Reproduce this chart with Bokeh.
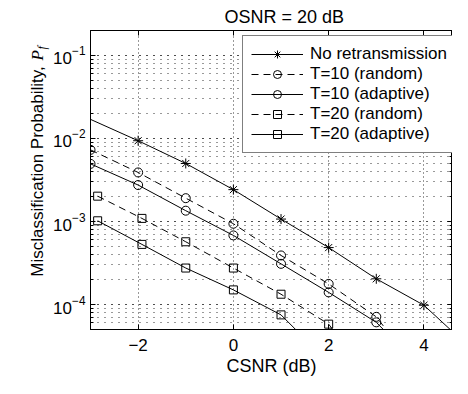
import math
from bokeh.plotting import figure
from bokeh.layouts import row
from bokeh.models import (Range1d, LinearAxis, LogAxis, SingleIntervalTicker,
                          CustomJSTickFormatter, Plot, ColumnDataSource, Text)
from bokeh.core.properties import value
from bokeh.embed import file_html
from bokeh.resources import INLINE

# ---------------- data ----------------
title_text = "OSNR = 20 dB"
x_label = "CSNR (dB)"
y_label_main = "Misclassification Probability, "
y_label_sym = "P"
y_label_sub = "f"

csnr = [-3, -2, -1, 0, 1, 2, 3, 4, 5]
no_retx = [1.7e-2, 9.4e-3, 5.0e-3, 2.42e-3, 1.07e-3, 4.85e-4, 2.04e-4, 9.8e-5, 2.9e-5]

csnr_t10 = [-3, -2, -1, 0, 1, 2, 3, 4]
t10_random = [7.3e-3, 3.9e-3, 1.91e-3, 9.4e-4, 3.9e-4, 1.77e-4, 7.1e-5, 1.3e-5]
t10_adaptive = [4.95e-3, 2.75e-3, 1.35e-3, 6.8e-4, 3.09e-4, 1.40e-4, 6.1e-5, 1.6e-5]

csnr_t20 = [-2.85, -1.92, -1, 0, 1, 2, 3]
t20_random = [2.02e-3, 1.09e-3, 5.7e-4, 2.75e-4, 1.33e-4, 5.8e-5, 1.0e-5]
t20_adaptive = [1.02e-3, 5.3e-4, 2.75e-4, 1.5e-4, 7.5e-5, 2.0e-5, 5.0e-6]

legend_labels = ["No retransmission", "T=10 (random)", "T=10 (adaptive)",
                 "T=20 (random)", "T=20 (adaptive)"]

x_lo, x_hi = -3, 4.6
y_lo, y_hi = 5e-5, 0.2

FONT = "Liberation Sans"
FS = "17px"
FS_BIG = "18px"

W, H = 452, 378
LW = 50            # width of the strip holding the y-axis label
ML, MT, MB = 34, 29, 49

# ---------------- y label strip (data units == pixels from the canvas bottom) ----------------
lab = Plot(width=LW, height=H, title=None, toolbar_location=None, output_backend="svg",
           x_range=Range1d(0, LW), y_range=Range1d(MB, H - MT),
           min_border_left=0, min_border_right=0, min_border_top=MT, min_border_bottom=MB,
           outline_line_color=None, background_fill_color="white",
           border_fill_color="white")

y_start = H - 276          # bottom end of the text, pixels from canvas bottom
w_main = 217               # rendered length of the main text
src_main = ColumnDataSource(dict(x=[37], y=[y_start], t=[y_label_main]))
src_sym = ColumnDataSource(dict(x=[37], y=[y_start + w_main], t=[y_label_sym]))
src_sub = ColumnDataSource(dict(x=[41], y=[y_start + w_main + 11], t=[y_label_sub]))
lab.add_glyph(src_main, Text(x="x", y="y", text="t", angle=math.pi / 2,
                             text_font=value(FONT), text_font_size=FS, text_color="black",
                             text_align="left", text_baseline="alphabetic"))
lab.add_glyph(src_sym, Text(x="x", y="y", text="t", angle=math.pi / 2,
                            text_font=value("Liberation Serif"), text_font_size=FS,
                            text_font_style="italic", text_color="black",
                            text_align="left", text_baseline="alphabetic"))
lab.add_glyph(src_sub, Text(x="x", y="y", text="t", angle=math.pi / 2,
                            text_font=value("Liberation Serif"), text_font_size="12px",
                            text_font_style="italic", text_color="black",
                            text_align="left", text_baseline="alphabetic"))

# ---------------- main plot ----------------
p = figure(width=W - LW, height=H, y_axis_type="log",
           x_range=Range1d(x_lo, x_hi), y_range=Range1d(y_lo, y_hi),
           output_backend="svg", toolbar_location=None,
           min_border_left=ML, min_border_right=0, min_border_top=MT, min_border_bottom=MB)

p.background_fill_color = "white"
p.border_fill_color = "white"
p.outline_line_color = "black"
p.outline_line_alpha = 1.0
p.outline_line_width = 1

p.title.text = title_text
p.title.text_font = FONT
p.title.text_font_size = FS_BIG
p.title.text_font_style = "normal"
p.title.text_color = "black"
p.title.align = "left"
p.title.offset = 134
p.title.standoff = 8

xb = p.xaxis[0]
yl = p.yaxis[0]
xt = SingleIntervalTicker(interval=2, num_minor_ticks=0)
xb.ticker = xt
xb.formatter = CustomJSTickFormatter(
    code="return tick < 0 ? '\u2212' + Math.abs(tick) : tick.toString();")
xb.axis_label = x_label

top = LinearAxis(ticker=xt, formatter=CustomJSTickFormatter(code="return '';"))
right = LogAxis(ticker=yl.ticker, formatter=CustomJSTickFormatter(code="return '';"))
p.add_layout(top, "above")
p.add_layout(right, "right")

for ax in [xb, yl, top, right]:
    ax.axis_line_color = "black"
    ax.major_tick_line_color = "black"
    ax.minor_tick_line_color = "black"
    ax.major_tick_in = 5
    ax.major_tick_out = 0
    ax.minor_tick_in = 3
    ax.minor_tick_out = 0
    ax.major_label_text_font = FONT
    ax.major_label_text_font_size = FS
    ax.major_label_text_color = "black"
    ax.axis_label_text_font = FONT
    ax.axis_label_text_font_size = FS_BIG
    ax.axis_label_text_font_style = "normal"
    ax.axis_label_text_color = "black"
for ax in [top, right]:
    ax.major_label_standoff = 0
xb.major_label_standoff = 9
xb.axis_label_standoff = 2
yl.major_label_standoff = 5

p.xgrid.grid_line_color = "#333333"
p.xgrid.grid_line_dash = "1 3"
p.ygrid.grid_line_color = "#333333"
p.ygrid.grid_line_dash = "1 6"
p.ygrid.minor_grid_line_color = "#333333"
p.ygrid.minor_grid_line_dash = "1 6"

DASH = "7 5"

p.line(csnr, no_retx, color="black", line_width=1, legend_label=legend_labels[0])
p.scatter(csnr[1:8], no_retx[1:8], marker="asterisk", size=10, line_color="black",
          line_width=1, legend_label=legend_labels[0])

p.line(csnr_t10, t10_random, color="black", line_width=1, line_dash=DASH,
       legend_label=legend_labels[1])
p.scatter(csnr_t10, t10_random, marker="circle", size=9, line_color="black",
          fill_color=None, line_width=1, legend_label=legend_labels[1])

p.line(csnr_t10, t10_adaptive, color="black", line_width=1, legend_label=legend_labels[2])
p.scatter(csnr_t10, t10_adaptive, marker="circle", size=9, line_color="black",
          fill_color=None, line_width=1, legend_label=legend_labels[2])

p.line(csnr_t20, t20_random, color="black", line_width=1, line_dash=DASH,
       legend_label=legend_labels[3])
p.scatter(csnr_t20, t20_random, marker="square", size=8, line_color="black",
          fill_color=None, line_width=1, legend_label=legend_labels[3])

p.line(csnr_t20, t20_adaptive, color="black", line_width=1, legend_label=legend_labels[4])
p.scatter(csnr_t20, t20_adaptive, marker="square", size=8, line_color="black",
          fill_color=None, line_width=1, legend_label=legend_labels[4])

lg = p.legend[0]
lg.location = (152, 176)
lg.label_text_font = FONT
lg.label_text_font_size = FS
lg.label_text_color = "black"
lg.glyph_width = 52
lg.glyph_height = 20
lg.label_height = 20
lg.spacing = 0
lg.padding = 8
lg.margin = 0
lg.label_standoff = 7
lg.border_line_color = "black"
lg.border_line_width = 1
lg.background_fill_color = "white"
lg.background_fill_alpha = 1.0

layout = row(lab, p, spacing=0)
open("out.html", "w").write(file_html(layout, INLINE))
